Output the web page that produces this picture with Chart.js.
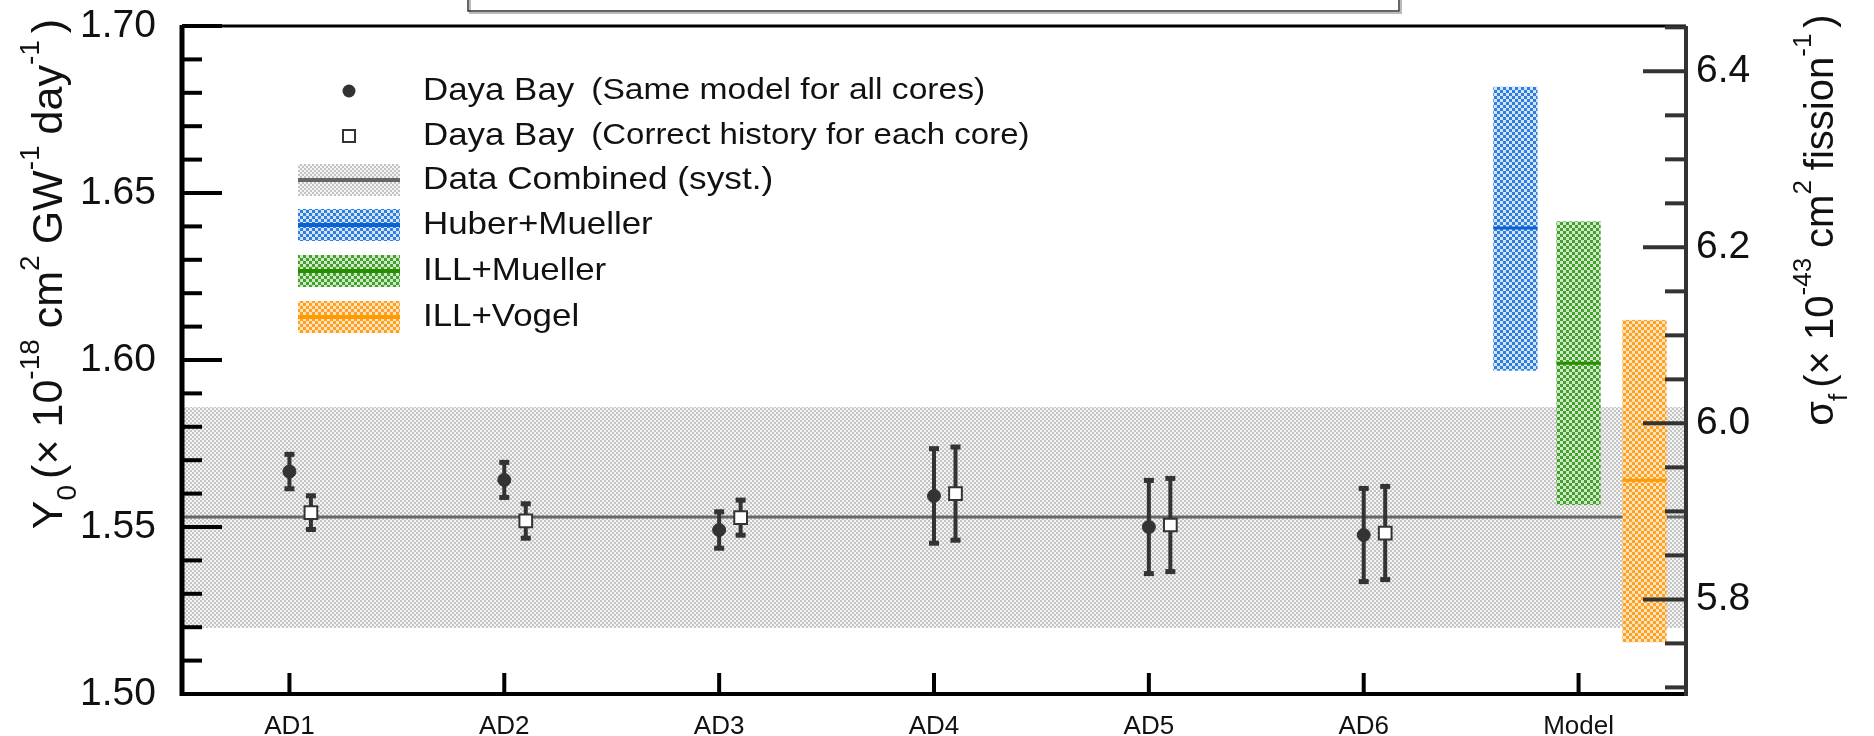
<!DOCTYPE html>
<html>
<head>
<meta charset="utf-8">
<script src="https://cdn.jsdelivr.net/npm/chart.js@4"></script>
<style>
  html, body { margin: 0; padding: 0; background: #fff; }
  canvas { display: block; }
</style>
</head>
<body>
<canvas id="myChart" width="1874" height="736"></canvas>
<script>
// detector / model categories along the x axis
var categories = ['AD1', 'AD2', 'AD3', 'AD4', 'AD5', 'AD6', 'Model'];

// Daya Bay, same model for all cores
var sameModel    = [1.5666, 1.5641, 1.5491, 1.5593, 1.5500, 1.5476];
var sameModelErr = [0.0053, 0.0054, 0.0056, 0.0143, 0.0141, 0.0141];

// Daya Bay, correct history for each core
var corrHist    = [1.5543, 1.5518, 1.5528, 1.5600, 1.5506, 1.5482];
var corrHistErr = [0.0052, 0.0053, 0.0054, 0.0141, 0.0141, 0.0141];

// data combined (syst.)
var combinedCenter = 1.553;
var combinedBand   = [1.5198, 1.5859];

// model predictions
var modelNames  = ['Huber+Mueller', 'ILL+Mueller', 'ILL+Vogel'];
var modelCenter = [1.6395, 1.5990, 1.5640];
var modelLow    = [1.5968, 1.5566, 1.5155];
var modelHigh   = [1.6818, 1.6415, 1.6120];

// right axis: sigma_f = Y0 * factor
var sigmaPerY0 = 3.795;

var FONT = "'Liberation Sans', Arial, Helvetica, sans-serif";
var MODEL_OFFSETS = [-0.294, 0, 0.307];
var MODEL_HALF = 0.103;
var OPEN_SHIFT = 0.1;

function checker(c1, c2, cell) {
    var p = document.createElement('canvas');
    p.width = cell * 2; p.height = cell * 2;
    var g = p.getContext('2d');
    g.fillStyle = c2; g.fillRect(0, 0, cell * 2, cell * 2);
    g.fillStyle = c1;
    g.fillRect(0, 0, cell, cell);
    g.fillRect(cell, cell, cell, cell);
    return document.getElementById('myChart').getContext('2d').createPattern(p, 'repeat');
}

var grayFill   = checker('#c4c4c4', '#f4f4f4', 2);
var modelFills = [checker('#2f7fe0', '#d3e4f8', 3), checker('#43a02e', '#cfe9c6', 3), checker('#ffa020', '#ffe4bf', 3)];
var modelLines = ['#0a62d2', '#2a8c00', '#ff9a00'];

// rich text (sub/superscripts), rotated to read bottom-to-top
function drawRich(ctx, segs, cx, cy, base) {
    ctx.save();
    ctx.translate(cx, cy);
    ctx.rotate(-Math.PI / 2);
    var total = 0;
    segs.forEach(function (s) {
        ctx.font = s.size + 'px ' + FONT;
        s.w = ctx.measureText(s.t).width + (s.gap || 0);
        total += s.w;
    });
    var x = -total / 2;
    ctx.fillStyle = '#111';
    ctx.textBaseline = 'alphabetic';
    segs.forEach(function (s) {
        ctx.font = s.size + 'px ' + FONT;
        ctx.fillText(s.t, x, base + (s.dy || 0));
        x += s.w;
    });
    ctx.restore();
}

// slightly widened text, like the original Helvetica rendering
function wideText(ctx, txt, x, y, k) {
    ctx.save();
    ctx.translate(x, y);
    ctx.scale(k, 1);
    ctx.fillText(txt, 0, 0);
    ctx.restore();
    return ctx.measureText(txt).width * k;
}

function errBar(ctx, x, y1, y2) {
    ctx.strokeStyle = '#333';
    ctx.lineWidth = 4;
    ctx.beginPath(); ctx.moveTo(x, y1); ctx.lineTo(x, y2); ctx.stroke();
    ctx.fillStyle = '#333';
    ctx.fillRect(x - 5, y1 - 2, 10, 5);
    ctx.fillRect(x - 5, y2 - 3, 10, 5);
}

var backdrop = {
    id: 'backdrop',
    beforeDatasetsDraw: function (chart) {
        var ctx = chart.ctx, xs = chart.scales.x, ys = chart.scales.y, a = chart.chartArea;
        ctx.save();
        // combined band
        var bt = ys.getPixelForValue(combinedBand[1]), bb = ys.getPixelForValue(combinedBand[0]);
        ctx.fillStyle = grayFill;
        ctx.fillRect(a.left, bt, a.right - a.left, bb - bt);
        var cy = ys.getPixelForValue(combinedCenter);
        ctx.strokeStyle = '#666'; ctx.lineWidth = 3;
        ctx.beginPath(); ctx.moveTo(a.left, cy); ctx.lineTo(a.right, cy); ctx.stroke();
        // model boxes
        for (var i = 0; i < modelNames.length; i++) {
            var c = 7 + MODEL_OFFSETS[i];
            var l = xs.getPixelForValue(c - MODEL_HALF), r = xs.getPixelForValue(c + MODEL_HALF);
            var t = ys.getPixelForValue(modelHigh[i]), b = ys.getPixelForValue(modelLow[i]);
            ctx.fillStyle = modelFills[i];
            ctx.fillRect(l, t, r - l, b - t);
            var m = ys.getPixelForValue(modelCenter[i]);
            ctx.strokeStyle = modelLines[i]; ctx.lineWidth = 3;
            ctx.beginPath(); ctx.moveTo(l, m); ctx.lineTo(r, m); ctx.stroke();
        }
        // error bars
        for (var k = 0; k < sameModel.length; k++) {
            var x1 = xs.getPixelForValue(k + 1);
            errBar(ctx, x1, ys.getPixelForValue(sameModel[k] + sameModelErr[k]), ys.getPixelForValue(sameModel[k] - sameModelErr[k]));
            var x2 = xs.getPixelForValue(k + 1 + OPEN_SHIFT);
            errBar(ctx, x2, ys.getPixelForValue(corrHist[k] + corrHistErr[k]), ys.getPixelForValue(corrHist[k] - corrHistErr[k]));
        }
        ctx.restore();
    },
    afterDraw: function (chart) {
        var ctx = chart.ctx, a = chart.chartArea;
        var xs = chart.scales.x, ys = chart.scales.y, y2 = chart.scales.y2;
        ctx.save();
        // frame
        ctx.strokeStyle = '#000';
        ctx.lineWidth = 3;
        ctx.beginPath(); ctx.moveTo(a.left, a.top); ctx.lineTo(a.right, a.top); ctx.stroke();
        ctx.lineWidth = 4;
        ctx.beginPath(); ctx.moveTo(a.left - 2, a.bottom); ctx.lineTo(a.right + 2, a.bottom); ctx.stroke();
        ctx.lineWidth = 5;
        ctx.beginPath(); ctx.moveTo(a.left, a.top - 1); ctx.lineTo(a.left, a.bottom + 2); ctx.stroke();
        ctx.strokeStyle = '#333'; ctx.lineWidth = 4;
        ctx.beginPath(); ctx.moveTo(a.right, a.top); ctx.lineTo(a.right, a.bottom + 2); ctx.stroke();
        // inward ticks
        ctx.strokeStyle = '#000'; ctx.lineWidth = 4;
        ys.ticks.forEach(function (t) {
            var p = ys.getPixelForValue(t.value);
            var len = t.label ? 40 : 20;
            ctx.beginPath(); ctx.moveTo(a.left, p); ctx.lineTo(a.left + len, p); ctx.stroke();
        });
        ctx.strokeStyle = '#333';
        y2.ticks.forEach(function (t) {
            var p = y2.getPixelForValue(t.value);
            var len = t.label ? 43 : 21;
            ctx.beginPath(); ctx.moveTo(a.right, p); ctx.lineTo(a.right - len, p); ctx.stroke();
        });
        ctx.strokeStyle = '#000';
        xs.ticks.forEach(function (t) {
            var p = xs.getPixelForValue(t.value);
            ctx.beginPath(); ctx.moveTo(p, a.bottom); ctx.lineTo(p, a.bottom - 21); ctx.stroke();
        });

        // partial box at the top
        ctx.strokeStyle = '#bbb'; ctx.lineWidth = 2;
        ctx.strokeRect(470, -20, 931, 33);
        ctx.strokeStyle = '#333'; ctx.lineWidth = 1.5;
        ctx.strokeRect(468, -20, 931, 31);

        // legend
        var rows = [91, 136, 180, 225, 271, 317];
        var sx = 298, sw = 102, sh = 32, tx = 423;
        ctx.fillStyle = '#333';
        ctx.beginPath(); ctx.arc(349, rows[0], 6.5, 0, Math.PI * 2); ctx.fill();
        ctx.fillStyle = '#fff'; ctx.strokeStyle = '#333'; ctx.lineWidth = 2;
        ctx.fillRect(343, rows[1] - 6, 12, 12); ctx.strokeRect(343, rows[1] - 6, 12, 12);
        var fills = [grayFill].concat(modelFills);
        var lines = ['#666'].concat(modelLines);
        for (var i = 0; i < 4; i++) {
            var ry = rows[i + 2];
            ctx.fillStyle = fills[i];
            ctx.fillRect(sx, ry - sh / 2, sw, sh);
            ctx.strokeStyle = lines[i]; ctx.lineWidth = 4;
            ctx.beginPath(); ctx.moveTo(sx, ry); ctx.lineTo(sx + sw, ry); ctx.stroke();
        }
        ctx.fillStyle = '#111';
        ctx.textBaseline = 'middle';
        ctx.font = '32px ' + FONT;
        var dw = wideText(ctx, 'Daya Bay', tx, rows[0], 1.09);
        wideText(ctx, 'Daya Bay', tx, rows[1], 1.09);
        wideText(ctx, 'Data Combined (syst.)', tx, rows[2], 1.1);
        for (var j = 0; j < modelNames.length; j++) wideText(ctx, modelNames[j], tx, rows[j + 3], 1.09);
        ctx.font = '30px ' + FONT;
        wideText(ctx, '(Same model for all cores)', tx + dw + 17, rows[0], 1.12);
        wideText(ctx, '(Correct history for each core)', tx + dw + 17, rows[1], 1.1);

        // axis titles
        var M = 43, S = 28;
        drawRich(ctx, [
            {t: 'Y', size: M}, {t: '0', size: S, dy: 14, gap: 6}, {t: '(\u00d7 10', size: M},
            {t: '-18', size: S, dy: -23, gap: 11}, {t: 'cm', size: M}, {t: '2', size: S, dy: -23, gap: 11},
            {t: 'GW', size: M}, {t: '-1', size: S, dy: -23, gap: 11}, {t: 'day', size: M},
            {t: '-1', size: S, dy: -23, gap: 7}, {t: ')', size: M}
        ], 0, 274, 62);
        drawRich(ctx, [
            {t: '\u03c3', size: 40}, {t: 'f', size: 26, dy: 14, gap: 6}, {t: '(\u00d7 10', size: 40},
            {t: '-43', size: 26, dy: -22, gap: 10}, {t: 'cm', size: 40}, {t: '2', size: 26, dy: -22, gap: 10},
            {t: 'fission', size: 40}, {t: '-1', size: 26, dy: -22, gap: 6}, {t: ')', size: 40}
        ], 0, 220, 1833);
        ctx.restore();
    }
};

function noPadY(s) { s.paddingTop = 0; s.paddingBottom = 0; }

var ctx = document.getElementById('myChart').getContext('2d');
var myChart = new Chart(ctx, {
    type: 'scatter',
    data: {
        datasets: [{
            label: 'Daya Bay (Same model for all cores)',
            data: sameModel.map(function (v, i) { return {x: i + 1, y: v}; }),
            pointStyle: 'circle',
            pointRadius: 6.5,
            backgroundColor: '#333',
            borderColor: '#333',
            borderWidth: 1
        }, {
            label: 'Daya Bay (Correct history for each core)',
            data: corrHist.map(function (v, i) { return {x: i + 1 + OPEN_SHIFT, y: v}; }),
            pointStyle: 'rect',
            pointRadius: 9,
            backgroundColor: '#fff',
            borderColor: '#333',
            borderWidth: 2
        }]
    },
    options: {
        responsive: false,
        animation: false,
        layout: { padding: { top: 26, left: 0, right: 0, bottom: 0 } },
        plugins: { legend: { display: false }, tooltip: { enabled: false } },
        scales: {
            x: {
                type: 'linear', min: 0.5, max: 7.5,
                grid: { display: false }, border: { display: false },
                afterBuildTicks: function (s) {
                    s.ticks = categories.map(function (c, i) { return {value: i + 1}; });
                },
                ticks: {
                    autoSkip: false, maxRotation: 0, padding: 9,
                    color: '#111', font: { size: 26, family: FONT },
                    callback: function (v) { return categories[Math.round(v) - 1] || ''; }
                },
                afterFit: function (s) { s.height = 42; s.paddingLeft = 0; s.paddingRight = 0; }
            },
            y: {
                position: 'left', min: 1.5, max: 1.7,
                grid: { display: false, drawTicks: false }, border: { display: false },
                ticks: {
                    stepSize: 0.01, autoSkip: false, padding: 26,
                    color: '#111', font: { size: 39, family: FONT },
                    callback: function (v) { return Math.round(v * 100) % 5 === 0 ? v.toFixed(2) : ''; }
                },
                afterFit: function (s) { s.width = 182; noPadY(s); }
            },
            y2: {
                position: 'right', min: 1.5 * sigmaPerY0, max: 1.7 * sigmaPerY0,
                grid: { display: false, drawTicks: false }, border: { display: false },
                ticks: {
                    stepSize: 0.05, includeBounds: false, autoSkip: false, padding: 10,
                    color: '#111', font: { size: 39, family: FONT },
                    callback: function (v) { return Math.round(v * 100) % 20 === 0 ? v.toFixed(1) : ''; }
                },
                afterFit: function (s) { s.width = 188; noPadY(s); }
            }
        }
    },
    plugins: [backdrop]
});
</script>
</body>
</html>
